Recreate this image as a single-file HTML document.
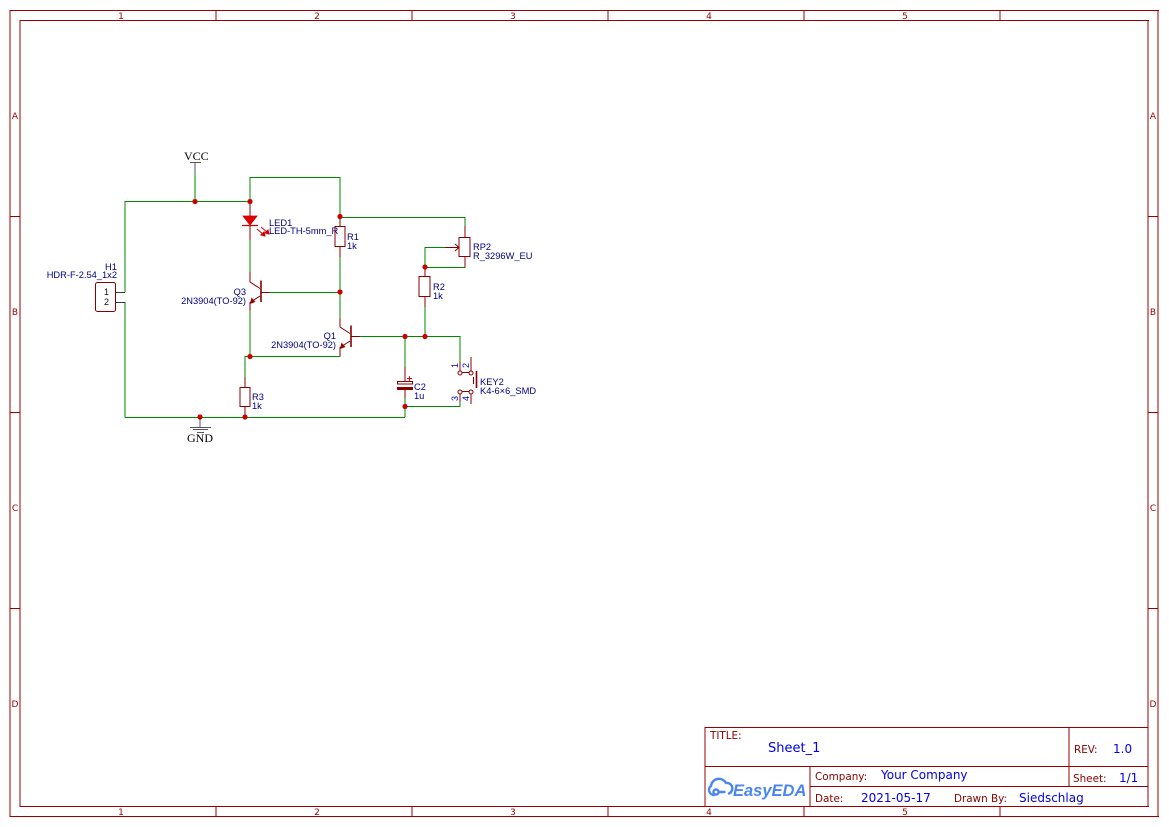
<!DOCTYPE html>
<html><head><meta charset="utf-8"><style>
html,body{margin:0;padding:0;background:#fff;}
svg{display:block;}
.b{stroke:#990000;stroke-width:1;fill:none;}
.w{stroke:#008800;stroke-width:1;fill:none;}
.p{stroke:#880000;stroke-width:1;fill:none;}
.g{stroke:#555;stroke-width:1;fill:none;}
.lab{font-family:"Liberation Sans",sans-serif;font-size:9.3px;fill:#000080;}
.bl{font-family:"DejaVu Sans",sans-serif;font-size:9px;fill:#990000;}
.tl{font-family:"DejaVu Sans",sans-serif;font-size:10.4px;fill:#880000;}
.tv{font-family:"DejaVu Sans",sans-serif;font-size:12px;fill:#0000ee;}
.pn{font-family:"Liberation Sans",sans-serif;font-size:9px;fill:#0000cc;}
</style></head><body>
<svg width="1169" height="827" viewBox="0 0 1169 827" xmlns="http://www.w3.org/2000/svg">
<rect x="0" y="0" width="1169" height="827" fill="#fff"/>
<!-- border -->
<path class="b" d="M10 10.5H1159M10 816.5H1159M10 10V817M1158 10V817"/>
<path class="b" d="M20 20.5H1149M20 806.5H1149M20 20V807M1148 20V807"/>
<g class="b">
<path d="M216 10v10M412 10v10M608 10v10M804 10v10M1000 10v10"/>
<path d="M216 806v10M412 806v10M608 806v10M804 806v10M1000 806v10"/>
<path d="M10 216.5h10M10 412.5h10M10 608.5h10"/>
<path d="M1148 216.5h10M1148 412.5h10M1148 608.5h10"/>
</g>
<g class="bl" text-anchor="middle">
<text x="121" y="19">1</text><text x="317" y="19">2</text><text x="513" y="19">3</text><text x="709" y="19">4</text><text x="905" y="19">5</text>
<text x="121" y="815">1</text><text x="317" y="815">2</text><text x="513" y="815">3</text><text x="709" y="815">4</text><text x="905" y="815">5</text>
<text x="15" y="119">A</text><text x="15" y="315">B</text><text x="15" y="511">C</text><text x="15" y="707">D</text>
<text x="1153" y="119">A</text><text x="1153" y="315">B</text><text x="1153" y="511">C</text><text x="1153" y="707">D</text>
</g>
<!-- title block -->
<path class="b" d="M705 727.5H1148M705 766.5H1148M810 786.5H1148M705 727V807M1069 727V787M810 766V807"/>
<text class="tl" x="710" y="739">TITLE:</text>
<text class="tv" x="768" y="752" style="font-size:13px">Sheet_1</text>
<text class="tl" x="1074" y="753">REV:</text>
<text class="tv" x="1113" y="753">1.0</text>
<text class="tl" x="815" y="780">Company:</text>
<text class="tv" x="881" y="779">Your Company</text>
<text class="tl" x="1073" y="782">Sheet:</text>
<text class="tv" x="1119" y="782">1/1</text>
<text class="tl" x="815" y="802">Date:</text>
<text class="tv" x="861" y="802">2021-05-17</text>
<text class="tl" x="954" y="802">Drawn By:</text>
<text class="tv" x="1019" y="802">Siedschlag</text>
<!-- EasyEDA logo -->
<g stroke="#4a86f0" stroke-width="2.4" fill="none" stroke-linecap="round">
<path d="M714 795 a5 5 0 0 1 -3 -9 a8 8 0 0 1 15 -3 a5.5 5.5 0 0 1 3 10.5"/>
<circle cx="716" cy="792" r="2.6"/>
<path d="M718.5 792 h6"/>
</g>
<text x="733" y="796" style="font-family:'Liberation Sans',sans-serif;font-size:16.5px;font-style:italic;font-weight:bold;fill:#4a86f0">EasyEDA</text>

<!-- ===== schematic ===== -->
<g class="w">
<path d="M195 172V201.5M125 201.5H250M125 201V292M125 302V417.5M125 417.5H405"/>
<path d="M250 201V177.5H340V217"/>
<path d="M340 217.5H465V226"/>
<path d="M250 240V272"/>
<path d="M340 257V318"/>
<path d="M270 292.5H340"/>
<path d="M250 311V356.5"/>
<path d="M245 377V356.5H340V354"/>
<path d="M360 336.5H460V362"/>
<path d="M425 336V307"/>
<path d="M425 267V247.5H445"/>
<path d="M425 267.5H465V266"/>
<path d="M405 336V367"/>
<path d="M405 398V417"/>
<path d="M405 406.5H460V402"/>
</g>
<!-- H1 -->
<rect x="95.5" y="282.5" width="20" height="29" rx="2" ry="2" class="p"/>
<path d="M115 292.5H125M115 302.5H125" stroke="#333" stroke-width="1"/>
<text x="104" y="295" style="font-family:'Liberation Sans',sans-serif;font-size:9px;fill:#111">1</text>
<text x="104" y="305" style="font-family:'Liberation Sans',sans-serif;font-size:9px;fill:#111">2</text>
<text class="lab" x="105" y="270">H1</text>
<text class="lab" x="117" y="278" text-anchor="end">HDR-F-2.54_1x2</text>
<!-- VCC -->
<path class="g" d="M195 162V172M190 162.5H201"/>
<text x="184" y="160" style="font-family:'Liberation Serif',serif;font-size:12px;fill:#000">VCC</text>
<!-- GND -->
<path class="g" d="M200 417V427M190 427.5H211M193 429.5H208M197 432.5H204"/>
<text x="187" y="442" style="font-family:'Liberation Serif',serif;font-size:12px;fill:#000">GND</text>
<!-- LED1 -->
<path class="p" d="M250 201V216M250 225V240"/>
<polygon points="243,216 257,216 250,225" fill="#e00000" stroke="#cc0000" stroke-width="0.8"/>
<path d="M242 225.5H258" stroke="#cc0000" stroke-width="1.2"/>
<g stroke="#cc0000" stroke-width="1" fill="#cc0000">
<path d="M257 229L264 235"/><polygon points="265,236 261,235 264,232"/>
<path d="M261 227L268 233"/><polygon points="269,234 265,233 268,230"/>
</g>
<text class="lab" x="269" y="226">LED1</text>
<text class="lab" x="269" y="234">LED-TH-5mm_R</text>
<!-- R1 -->
<path class="p" d="M340 217V226M340 247V257"/>
<rect class="p" x="335" y="226.5" width="10" height="20"/>
<text class="lab" x="347" y="240">R1</text>
<text class="lab" x="347" y="249">1k</text>
<!-- Q3 -->
<g class="p">
<path d="M250 272V282L260 288.5"/>
<path d="M261 280.5V302" stroke-width="1.6"/>
<path d="M261 292.5H270"/>
<path d="M260 296L250 302.5V311"/>
</g>
<polygon points="250,304 251.5,297.5 255.5,302" fill="#990000"/>
<text class="lab" x="246" y="295" text-anchor="end">Q3</text>
<text class="lab" x="246" y="304" text-anchor="end">2N3904(TO-92)</text>
<!-- Q1 -->
<g class="p">
<path d="M340 318V327L350 333.5"/>
<path d="M351 325.5V347" stroke-width="1.6"/>
<path d="M351 336.5H360"/>
<path d="M350 341L340 347.5V356"/>
</g>
<polygon points="340,349 341.5,342.5 345.5,347" fill="#990000"/>
<text class="lab" x="336" y="339" text-anchor="end">Q1</text>
<text class="lab" x="336" y="348" text-anchor="end">2N3904(TO-92)</text>
<!-- R3 -->
<path class="p" d="M245 377V387M245 407V417"/>
<rect class="p" x="240" y="387.5" width="10" height="19"/>
<text class="lab" x="252" y="400">R3</text>
<text class="lab" x="252" y="409">1k</text>
<!-- RP2 -->
<path class="p" d="M465 226V237M465 257V267M445 247.5H459M455 244L459 247.5L455 251"/>
<rect class="p" x="459" y="237.5" width="11" height="19"/>
<text class="lab" x="473" y="250">RP2</text>
<text class="lab" x="473" y="259">R_3296W_EU</text>
<!-- R2 -->
<path class="p" d="M425 267V276M425 297V307"/>
<rect class="p" x="419" y="276.5" width="11" height="20"/>
<text class="lab" x="433" y="290">R2</text>
<text class="lab" x="433" y="299">1k</text>
<!-- C2 -->
<path class="p" d="M405 367V381M405 390V398"/>
<rect class="p" x="397.5" y="381.5" width="15" height="2.5"/>
<rect x="397" y="387" width="16" height="3" fill="#880000"/>
<path d="M407 378.5H412M409.5 376V381" stroke="#cc0000" stroke-width="0.9"/>
<text class="lab" x="414" y="390">C2</text>
<text class="lab" x="414" y="399">1u</text>
<!-- KEY2 -->
<g class="p">
<path d="M460 362V371M471 371V357M460 394V402M471 394V404"/>
<path d="M462 372.5H469M462 391.5H469"/>
<circle cx="460" cy="373" r="2" fill="#fff"/>
<circle cx="471" cy="373" r="2" fill="#fff"/>
<circle cx="460" cy="392" r="2" fill="#fff"/>
<circle cx="471" cy="392" r="2" fill="#fff"/>
<path d="M476.5 371V388" stroke-width="1.6"/>
<path d="M473.5 377V384"/>
</g>
<text class="pn" transform="translate(458,368) rotate(-90)">1</text>
<text class="pn" transform="translate(469,368) rotate(-90)">2</text>
<text class="pn" transform="translate(458,401) rotate(-90)">3</text>
<text class="pn" transform="translate(469,401) rotate(-90)">4</text>
<text class="lab" x="480" y="385">KEY2</text>
<text class="lab" x="480" y="394">K4-6×6_SMD</text>
<!-- junctions -->
<g fill="#cc0000">
<circle cx="195" cy="201.5" r="2.6"/>
<circle cx="250" cy="201.5" r="2.6"/>
<circle cx="340" cy="216.5" r="2.6"/>
<circle cx="340" cy="292" r="2.6"/>
<circle cx="250" cy="356.5" r="2.6"/>
<circle cx="405" cy="336.5" r="2.6"/>
<circle cx="425" cy="336.5" r="2.6"/>
<circle cx="425" cy="267" r="2.6"/>
<circle cx="405" cy="406.5" r="2.6"/>
<circle cx="200" cy="417" r="2.6"/>
<circle cx="245" cy="417" r="2.6"/>
</g>
</svg>
</body></html>
